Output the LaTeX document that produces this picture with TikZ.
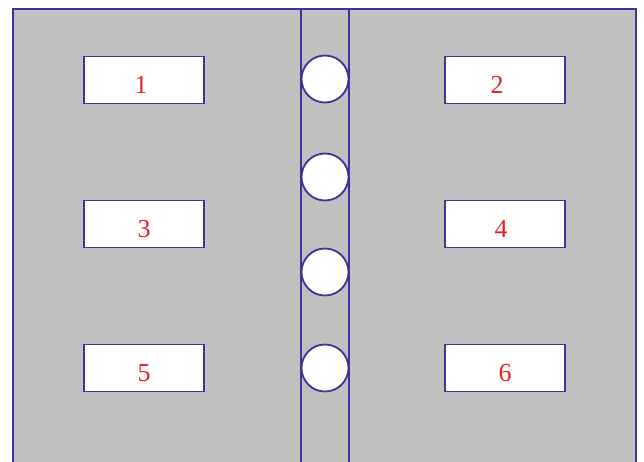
\documentclass[tikz,border=0pt]{standalone}
\usepackage{fontspec}
\setmainfont{Liberation Serif}
\usetikzlibrary{positioning}
\definecolor{plategray}{RGB}{192,192,192}
\definecolor{edgeblue}{RGB}{58,52,156}
\definecolor{labelred}{RGB}{232,30,40}
\newcommand{\slotlabel}[1]{\raisebox{-13pt}[0pt][0pt]{#1}}

\begin{document}
\begin{tikzpicture}[x=1pt,y=-1pt, every node/.style={font=\fontsize{26}{26}\selectfont,text=labelred}]
\tikzset{slot/.style={draw=edgeblue,line width=1.8pt,fill=white,minimum width=120pt,minimum height=47pt,inner sep=0pt},
  hole/.style={draw=edgeblue,line width=1.8pt,fill=white,circle,minimum size=47pt,inner sep=0pt}}
\useasboundingbox (0,0) rectangle (644,461);
\clip (0,0) rectangle (644,461);
% plate and middle strip
\draw[edgeblue,line width=1.8pt,fill=plategray] (13,9) rectangle (636,480);
\draw[edgeblue,line width=1.8pt] (301,9) -- (301,480) (349,9) -- (349,480);
% slots
\node[slot] (s1) at (144,80) {\slotlabel{\kern-6pt 1}};
\node[slot] (s2) at (505,80) {\slotlabel{\kern-16pt 2}};
\node[slot] (s3) at (144,224) {\slotlabel{3}};
\node[slot] (s4) at (505,224) {\slotlabel{\kern-8pt 4}};
\node[slot] (s5) at (144,368) {\slotlabel{5}};
\node[slot] (s6) at (505,368) {\slotlabel{6}};
% holes in the strip
\node[hole] (h1) at (325,79) {};
\node[hole] (h2) at (325,177) {};
\node[hole] (h3) at (325,272) {};
\node[hole] (h4) at (325,368) {};
\end{tikzpicture}
\end{document}
